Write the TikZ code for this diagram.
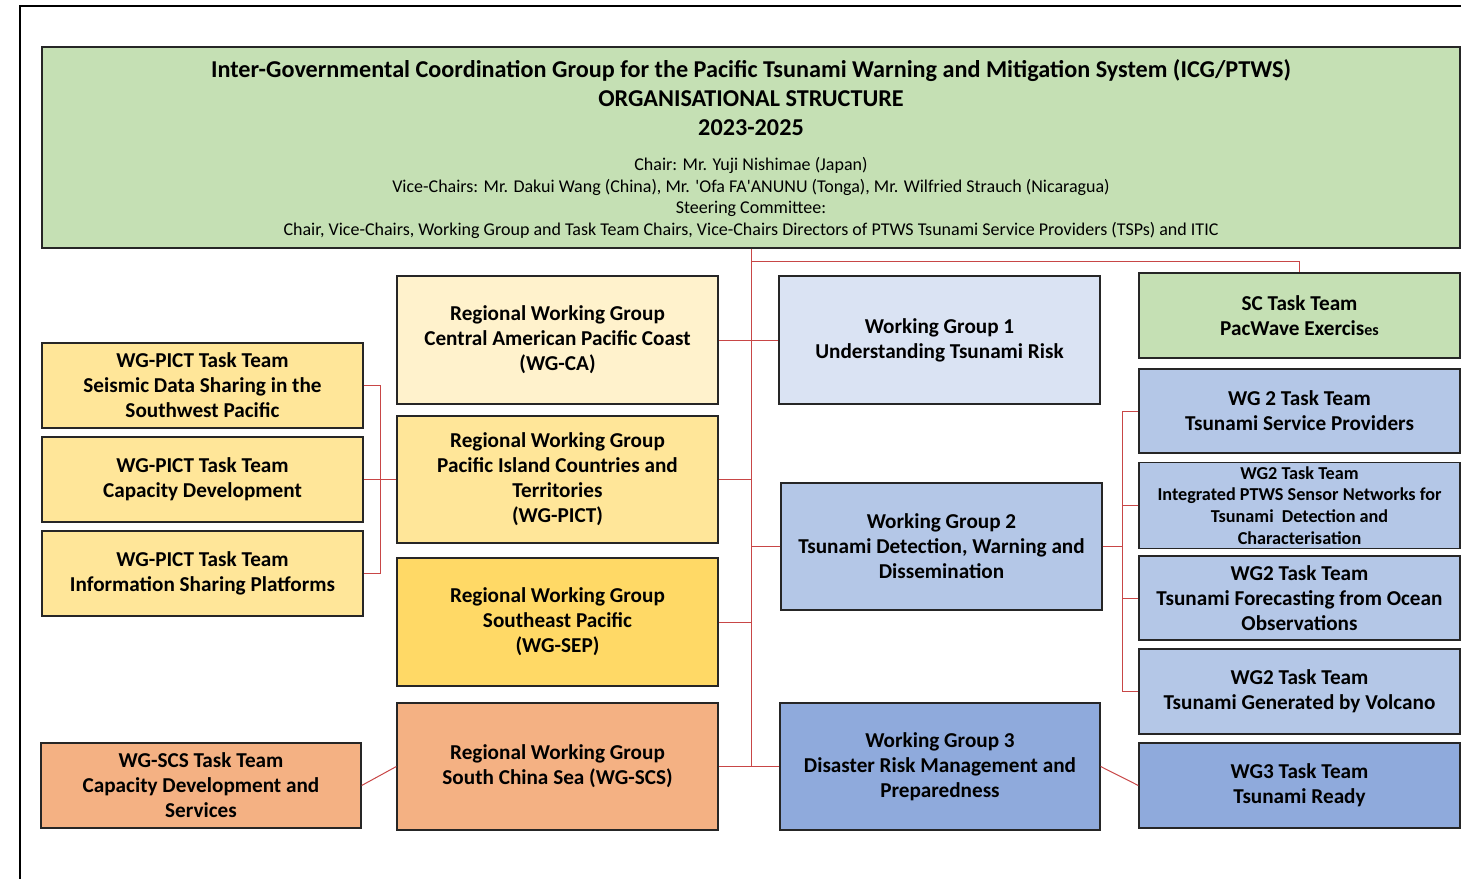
\documentclass[tikz,border=0pt]{standalone}
\usepackage{fontspec}
\setmainfont{Carlito}
\definecolor{hdr}{HTML}{C5E0B4}
\definecolor{bA}{HTML}{DAE3F3}
\definecolor{bB}{HTML}{B4C7E7}
\definecolor{bC}{HTML}{8FAADC}
\definecolor{yA}{HTML}{FFF2CC}
\definecolor{yB}{HTML}{FFE699}
\definecolor{yC}{HTML}{FFD966}
\definecolor{oA}{HTML}{F4B183}
\definecolor{lnk}{RGB}{200,70,70}
\tikzset{
  box/.style={draw=black!85, line width=1.3pt, inner sep=0pt, align=center,
    minimum width=321pt, font=\bfseries\fontsize{21.2}{25}\selectfont},
  bigbox/.style={box, minimum height=128pt},
  smallbox/.style={box, minimum height=85pt},
  conn/.style={draw=lnk, line width=1pt},
}
\begin{document}
\begin{tikzpicture}[x=1pt,y=-1pt]
\useasboundingbox (0,0) rectangle (1461,878);
\draw[line width=2.5pt] (20,890) -- (20,6) -- (1470,6);
% header
\node[box, fill=hdr, minimum width=1418pt, minimum height=201pt] (header) at (751,147.5) {};
\node[font=\bfseries\fontsize{24.2}{29}\selectfont, align=center, inner sep=0pt] (title) at (751,98)
  {Inter-Governmental Coordination Group for the Pacific Tsunami Warning and Mitigation System (ICG/PTWS)\\ORGANISATIONAL STRUCTURE\\2023-2025};
\node[font=\fontsize{18}{21.7}\selectfont, align=center, inner sep=0pt] (info) at (751,198)
  {Chair: Mr. Yuji Nishimae (Japan)\\Vice-Chairs: Mr. Dakui Wang (China), Mr. \textquotesingle Ofa FA\textquotesingle ANUNU (Tonga), Mr. Wilfried Strauch (Nicaragua)\\Steering Committee:\\Chair, Vice-Chairs, Working Group and Task Team Chairs, Vice-Chairs Directors of PTWS Tsunami Service Providers (TSPs) and ITIC};
% right column
\node[smallbox, fill=hdr] (sc) at (1299.5,315.5) {SC Task Team\\PacWave Exercis{\fontsize{16}{25}\selectfont es}};
\node[smallbox, fill=bB, minimum height=84pt] (tsp) at (1299.5,411) {WG 2 Task Team\\Tsunami Service Providers};
\node[smallbox, fill=bB, minimum height=86pt, font=\bfseries\fontsize{18.2}{21.7}\selectfont] (integ) at (1299.5,505.5) {WG2 Task Team\\Integrated PTWS Sensor Networks for\\Tsunami\ \ Detection and\\Characterisation};
\node[smallbox, fill=bB, minimum height=84pt] (fore) at (1299.5,598) {WG2 Task Team\\Tsunami Forecasting from Ocean\\Observations};
\node[smallbox, fill=bB] (volc) at (1299.5,691.5) {WG2 Task Team\\Tsunami Generated by Volcano};
\node[smallbox, fill=bC] (wgtt) at (1299.5,785.5) {WG3 Task Team\\Tsunami Ready};
% working groups
\node[bigbox, fill=bA] (wg1) at (939.5,340) {Working Group 1\\Understanding Tsunami Risk};
\node[bigbox, fill=bB, minimum height=127pt] (wg2) at (941.5,546.5) {Working Group 2\\Tsunami Detection, Warning and\\Dissemination};
\node[bigbox, fill=bC, minimum height=127pt, minimum width=320pt] (wg3) at (940,766.5) {Working Group 3\\Disaster Risk Management and\\Preparedness};
% regional working groups
\node[bigbox, fill=yA] (wgca) at (557.5,340) {Regional Working Group\\Central American Pacific Coast\\(WG-CA)};
\node[bigbox, fill=yB, minimum height=127pt] (pict) at (557.5,479.5) {Regional Working Group\\Pacific Island Countries and\\Territories\\(WG-PICT)};
\node[bigbox, fill=yC] (sep) at (557.5,622) {Regional Working Group\\Southeast Pacific\\(WG-SEP)};
\node[bigbox, fill=oA, minimum height=127pt] (scs) at (557.5,766.5) {Regional Working Group\\South China Sea (WG-SCS)};
% left task teams
\node[smallbox, fill=yB] (tta) at (202.5,385.5) {WG-PICT Task Team\\Seismic Data Sharing in the\\Southwest Pacific};
\node[smallbox, fill=yB] (ttb) at (202.5,479.5) {WG-PICT Task Team\\Capacity Development};
\node[smallbox, fill=yB] (ttc) at (202.5,573.5) {WG-PICT Task Team\\Information Sharing Platforms};
\node[smallbox, fill=oA, minimum width=320pt] (scstt) at (201,785.5) {WG-SCS Task Team\\Capacity Development and\\Services};
% connectors
\coordinate (trunkbot) at (751,766.5);
\coordinate (j1) at (751,261);
\coordinate (lb) at (380,0);
\coordinate (rb) at (1122,0);
\draw[conn] (header.south) -- (trunkbot);
\draw[conn] (j1) -| (sc.north);
\draw[conn] (wgca.east) -- (wg1.west);
\draw[conn] (pict.east) -- (pict.east -| header.south);
\draw[conn] (sep.east) -- (sep.east -| header.south);
\draw[conn] (wg2.west) -- (wg2.west -| header.south);
\draw[conn] (scs.east) -- (wg3.west);
\draw[conn] (ttb.east) -- (pict.west);
\draw[conn] (tta.east) -| (lb |- ttc.east) -- (ttc.east);
\draw[conn] (wg2.east) -- (wg2.east -| rb);
\draw[conn] (tsp.west) -| (rb |- volc.west) -- (volc.west);
\draw[conn] (integ.west) -- (integ.west -| rb);
\draw[conn] (fore.west) -- (fore.west -| rb);
\draw[conn] (wg3.east) -- (wgtt.west);
\draw[conn] (scstt.east) -- (scs.west);
\end{tikzpicture}
\end{document}
